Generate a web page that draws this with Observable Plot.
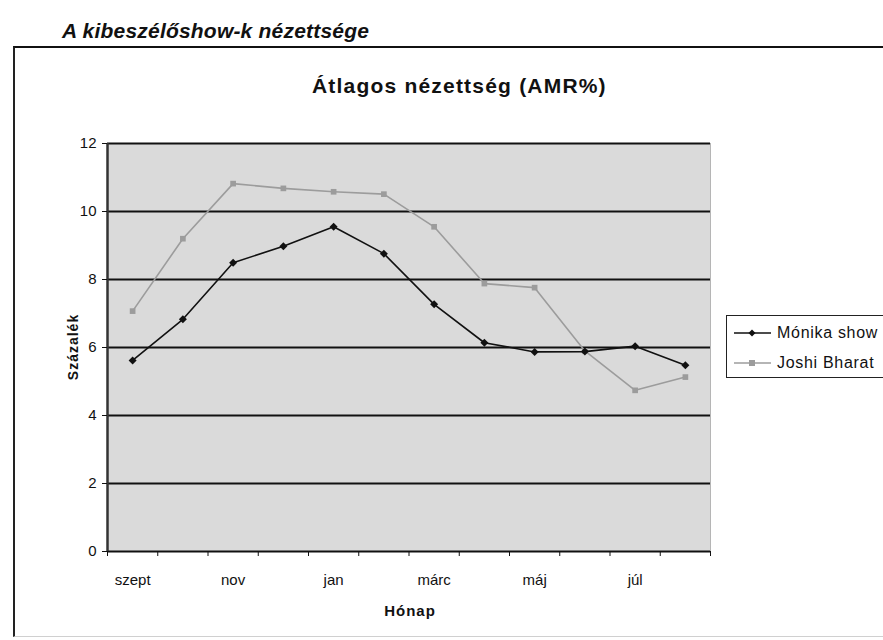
<!DOCTYPE html>
<html>
<head>
<meta charset="utf-8">
<script src="https://cdn.jsdelivr.net/npm/d3@7"></script>
<script src="https://cdn.jsdelivr.net/npm/@observablehq/plot@0.6"></script>
<style>
  html, body { margin: 0; padding: 0; background: #fff; }
  #wrap { position: relative; width: 883px; height: 640px; overflow: hidden; font-family: "Liberation Sans", Arial, sans-serif; }
  .ov { position: absolute; white-space: nowrap; color: #111; line-height: 1; }
</style>
</head>
<body>
<div id="wrap"></div>
<script>
const months = ["szept","okt","nov","dec","jan","febr","márc","ápr","máj","jún","júl","aug"];
const shownMonths = ["szept","nov","jan","márc","máj","júl"];
const monika = [5.62, 6.83, 8.49, 8.98, 9.55, 8.76, 7.27, 6.14, 5.87, 5.88, 6.04, 5.48];
const joshi  = [7.07, 9.20, 10.82, 10.68, 10.58, 10.51, 9.55, 7.88, 7.76, 5.90, 4.74, 5.13];
const seriesNames = ["Mónika show", "Joshi Bharat"];
const yTicks = [0, 2, 4, 6, 8, 10, 12];

const rows = [];
months.forEach((m, i) => {
  rows.push({series: seriesNames[0], idx: i + 0.5, value: monika[i]});
  rows.push({series: seriesNames[1], idx: i + 0.5, value: joshi[i]});
});
const monikaRows = rows.filter(d => d.series === seriesNames[0]);
const joshiRows = rows.filter(d => d.series === seriesNames[1]);
const boundaries = d3.range(0, months.length + 1);
const labelTicks = shownMonths.map(m => months.indexOf(m) + 0.5);

const chart = Plot.plot({
  width: 883,
  height: 640,
  marginLeft: 107,
  marginRight: 173,
  marginTop: 143,
  marginBottom: 89,
  style: {fontFamily: "'Liberation Sans', Arial, sans-serif", fontSize: "14px", color: "#111", background: "transparent", position: "absolute", left: "0px", top: "0px"},
  x: {type: "linear", domain: [0, months.length], axis: null},
  y: {type: "linear", domain: [0, 12], axis: null},
  marks: [
    Plot.frame({fill: "#dadada", stroke: "#b5b5b5"}),
    Plot.ruleY(yTicks.filter(d => d > 0), {stroke: "#111", strokeWidth: 1.8}),
    Plot.ruleY([0], {stroke: "#111", strokeWidth: 2}),
    Plot.ruleX([0], {stroke: "#333", strokeWidth: 2.5}),
    Plot.axisY(yTicks, {anchor: "left", tickSize: 5, tickPadding: 6, label: null, fontSize: 15}),
    Plot.axisX(boundaries, {anchor: "bottom", tickSize: 5, tickFormat: () => "", label: null}),
    Plot.axisX(labelTicks, {anchor: "bottom", tickSize: 0, tickPadding: 23, label: null, fontSize: 15,
      letterSpacing: 1.2, tickFormat: d => months[Math.round(d - 0.5)]}),
    Plot.line(joshiRows, {x: "idx", y: "value", stroke: "#9c9c9c", strokeWidth: 1.6}),
    Plot.dot(joshiRows, {x: "idx", y: "value", symbol: "square", r: 3.2, fill: "#9c9c9c", stroke: "none"}),
    Plot.line(monikaRows, {x: "idx", y: "value", stroke: "#111", strokeWidth: 1.6}),
    Plot.dot(monikaRows, {x: "idx", y: "value", symbol: "diamond2", r: 3.6, fill: "#111", stroke: "none"})
  ]
});

const wrap = document.getElementById("wrap");

// chart area frame
const frame = document.createElement("div");
frame.style.cssText = "position:absolute;left:13px;top:46px;width:900px;height:591px;border-top:2.5px solid #111;border-left:2px solid #222;border-bottom:1px solid #d0d0d0;box-sizing:border-box;";
wrap.appendChild(frame);
wrap.appendChild(chart);

function addText(txt, css) {
  const d = document.createElement("div");
  d.className = "ov";
  d.textContent = txt;
  d.style.cssText += css;
  wrap.appendChild(d);
  return d;
}
addText("A kibeszélőshow-k nézettsége", "left:62px;top:20px;font-size:21px;font-weight:bold;font-style:italic;letter-spacing:0.2px;");
addText("Átlagos nézettség (AMR%)", "left:312px;top:75px;font-size:21px;font-weight:bold;letter-spacing:1.2px;");
addText("Hónap", "left:410px;top:603px;transform:translateX(-50%);font-size:15px;font-weight:bold;letter-spacing:1px;");
addText("Százalék", "left:73px;top:347px;transform:translate(-50%,-50%) rotate(-90deg);font-size:14px;font-weight:bold;letter-spacing:1px;");

// legend
const legend = document.createElement("div");
legend.style.cssText = "position:absolute;left:726px;top:315px;width:200px;height:63px;border:1.5px solid #222;box-sizing:border-box;background:#fff;";
wrap.appendChild(legend);
const legendStyles = [
  {stroke: "#111", symbol: "diamond"},
  {stroke: "#9c9c9c", symbol: "square"}
];
seriesNames.forEach((name, i) => {
  const row = document.createElement("div");
  row.style.cssText = `position:absolute;left:6px;top:${8 + i * 30}px;height:18px;display:flex;align-items:center;font-size:16px;letter-spacing:0.7px;color:#111;white-space:nowrap;`;
  const st = legendStyles[i];
  const mk = st.symbol === "diamond"
    ? `<path d="M19 5.5 L22.5 9 L19 12.5 L15.5 9 Z" fill="${st.stroke}"/>`
    : `<rect x="16" y="6" width="6" height="6" fill="${st.stroke}"/>`;
  row.innerHTML = `<svg width="40" height="18" style="margin-right:4px;display:block"><line x1="1" y1="9" x2="38" y2="9" stroke="${st.stroke}" stroke-width="1.6"/>${mk}</svg><span>${name}</span>`;
  legend.appendChild(row);
});
</script>
</body>
</html>
